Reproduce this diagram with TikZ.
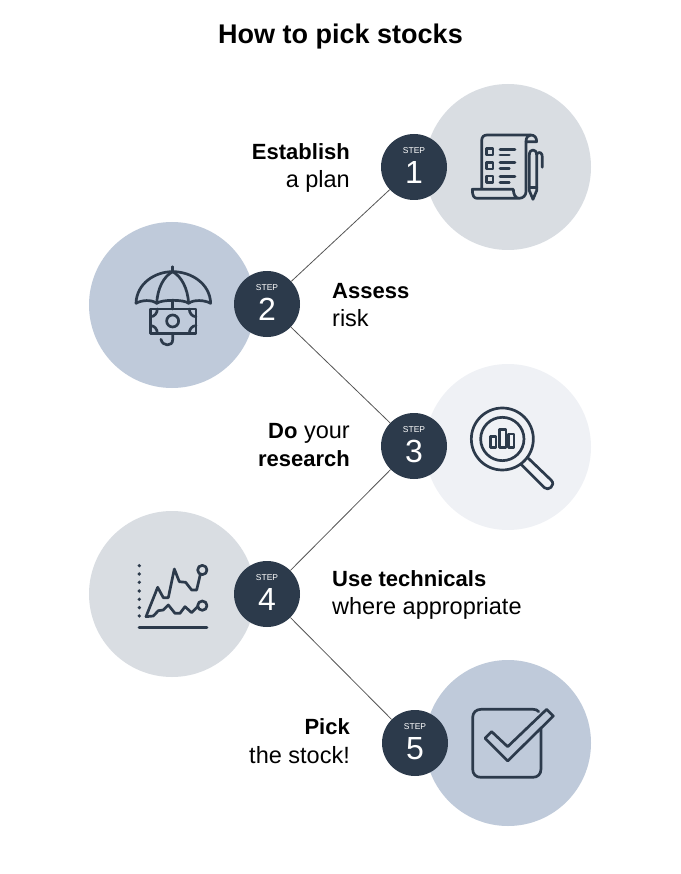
\documentclass[tikz,border=0pt]{standalone}
\usepackage{xcolor}
\usepackage{fontspec}
\setmainfont{Liberation Sans}
\usepackage{tikz}
\usetikzlibrary{positioning, shapes, calc}
\definecolor{stepdark}{HTML}{2C3A4B}
\definecolor{palegrey}{HTML}{D9DDE2}
\definecolor{paleblue}{HTML}{BFCADA}
\definecolor{palewhite}{HTML}{EFF1F5}
\definecolor{linkgrey}{HTML}{555555}
\tikzset{
	bigcircle/.style={circle, minimum size=166pt, inner sep=0pt},
	stepcircle/.style={circle, fill=stepdark, text=white, minimum size=66pt, inner sep=0pt, align=center, text depth=3pt, font=\fontsize{32}{30}\selectfont},
	link/.style={draw=linkgrey, line width=0.8pt},
	icon/.style={draw=stepdark, line width=2.7pt, line join=round, line cap=round},
	tagright/.style={anchor=east, align=right, inner sep=0pt, font=\fontsize{23.5}{28.5}\selectfont},
	tagleft/.style={anchor=west, align=left, inner sep=0pt, font=\fontsize{23.5}{28.5}\selectfont},
	zoomed/.style={x=0.3333pt, y=-0.3333pt}
}
\newcommand{\steplabel}[1]{{\fontsize{8.5}{9}\selectfont STEP}\\#1}
\newcommand{\tagbold}[1]{{\bfseries\fontsize{22}{28.5}\selectfont #1}}
\begin{document}
\begin{tikzpicture}[x=1pt, y=-1pt]
	\useasboundingbox (0,0) rectangle (680,874);
	\node[font=\bfseries\fontsize{27}{32}\selectfont, text=black] (title) at (340.5,37) {How to pick stocks};

	\node[bigcircle, fill=palegrey] (big1) at (508,167) {};
	\node[bigcircle, fill=paleblue] (big2) at (172,305) {};
	\node[bigcircle, fill=palewhite] (big3) at (508,447) {};
	\node[bigcircle, fill=palegrey] (big4) at (172,594) {};
	\node[bigcircle, fill=paleblue] (big5) at (508,743) {};

	\node[stepcircle] (step1) at (414,167) {\steplabel{1}};
	\node[stepcircle] (step2) at (267,304) {\steplabel{2}};
	\node[stepcircle] (step3) at (414,446) {\steplabel{3}};
	\node[stepcircle] (step4) at (267,594) {\steplabel{4}};
	\node[stepcircle] (step5) at (415,743) {\steplabel{5}};

	\draw[link] (step1) -- (step2);
	\draw[link] (step2) -- (step3);
	\draw[link] (step3) -- (step4);
	\draw[link] (step4) -- (step5);

	\node[tagright] (plan) at (350,168) {\tagbold{Establish}\\a plan};
	\node[tagleft] (risk) at (332,305) {\tagbold{Assess}\\risk};
	\node[tagright] (research) at (350,445) {\tagbold{Do} your\\\tagbold{research}};
	\node[tagleft] (technicals) at (332,595) {\tagbold{Use technicals}\\where appropriate};
	\node[tagright] (stock) at (350,741) {\tagbold{Pick}\\the stock!};

	\begin{scope}[shift={(370,80)}, zoomed]
		\draw[icon] (335,325) -- (335,182) .. controls (335,170) and (342,165) .. (352,165) -- (482,165) .. controls (494,165) and (500,173) .. (500,185) -- (468,185) -- (468,335) .. controls (468,346) and (460,355) .. (447,355) -- (322,355) .. controls (312,355) and (307,348) .. (307,328) -- (430,328) .. controls (430,342) and (436,355) .. (447,355);
		\draw[icon] (468,185) .. controls (468,173) and (474,165) .. (482,165);
		\draw[icon] (350,205) rectangle (369,225);
		\draw[icon] (350,247) rectangle (369,267);
		\draw[icon] (350,288) rectangle (369,308);
		\draw[icon] (390,208) -- (435,208);
		\draw[icon] (390,225) -- (418,225);
		\draw[icon] (390,248) -- (435,248);
		\draw[icon] (390,265) -- (418,265);
		\draw[icon] (390,290) -- (435,290);
		\draw[icon] (390,307) -- (418,307);
		\draw[icon] (478,225) .. controls (478,205) and (500,205) .. (500,225) -- (500,332) -- (489,358) -- (478,332) -- cycle;
		\draw[icon] (478,322) -- (500,322);
		\draw[icon] (500,222) .. controls (510,212) and (517,220) .. (517,232) -- (517,262);
	\end{scope}

	\begin{scope}[shift={(85,220)}, zoomed]
		\draw[icon] (263,140) -- (263,155);
		\draw[icon] (153,250) .. controls (155,190) and (210,155) .. (263,155) .. controls (318,155) and (375,190) .. (377,250) .. controls (360,240) and (325,238) .. (311,250) .. controls (298,238) and (230,238) .. (215,250) .. controls (200,238) and (170,240) .. (153,250);
		\draw[icon] (215,250) .. controls (218,205) and (235,170) .. (263,155) .. controls (290,170) and (308,205) .. (311,250);
		\draw[icon] (263,243) -- (263,267);
		\draw[icon] (197,267) rectangle (333,340);
		\draw[icon] (263,303) circle (18);
		\draw[icon] (197,290) .. controls (208,290) and (217,280) .. (217,267);
		\draw[icon] (333,290) .. controls (322,290) and (313,280) .. (313,267);
		\draw[icon] (197,317) .. controls (208,317) and (217,327) .. (217,340);
		\draw[icon] (333,317) .. controls (322,317) and (313,327) .. (313,340);
		\draw[icon] (263,340) -- (263,360) .. controls (263,380) and (232,380) .. (228,358);
	\end{scope}

	\begin{scope}[shift={(370,360)}, zoomed]
		\draw[icon] (397,237) circle (93);
		\draw[icon] (397,237) circle (65);
		\draw[icon] (452,312) -- (523,383) .. controls (535,395) and (558,375) .. (544,361) -- (472,292);
		\draw[icon] (362,230) rectangle (378,262);
		\draw[icon] (389,208) rectangle (408,262);
		\draw[icon] (416,222) rectangle (432,262);
	\end{scope}

	\begin{scope}[shift={(85,510)}, zoomed]
		\fill[stepdark] (163,167) circle (5.5);
		\fill[stepdark] (163,192) circle (5.5);
		\fill[stepdark] (163,217) circle (5.5);
		\fill[stepdark] (163,243) circle (5.5);
		\fill[stepdark] (163,268) circle (5.5);
		\fill[stepdark] (163,293) circle (5.5);
		\fill[stepdark] (163,318) circle (5.5);
		\draw[icon] (162,352) -- (366,352);
		\draw[icon] (183,320) -- (218,232) -- (235,263) -- (250,263) -- (268,177) -- (283,215) -- (302,217) -- (320,240) -- (335,240) -- (346,193);
		\draw[icon] (352,180) circle (14);
		\draw[icon] (183,320) -- (205,318) -- (220,302) -- (235,300) -- (250,285) -- (270,310) -- (285,310) -- (300,290) -- (320,308) -- (338,290);
		\draw[icon] (352,287) circle (14);
	\end{scope}

	\begin{scope}[shift={(370,655)}, zoomed]
		\draw[icon] (513,222) -- (513,342) .. controls (513,358) and (503,367) .. (488,367) -- (333,367) .. controls (318,367) and (308,358) .. (308,342) -- (308,188) .. controls (308,173) and (318,163) .. (333,163) -- (490,163) .. controls (497,163) and (502,165) .. (506,170);
		\draw[icon] (345,250) -- (365,230) -- (413,275) -- (530,163) -- (550,183) -- (413,318) -- cycle;
	\end{scope}
\end{tikzpicture}
\end{document}
